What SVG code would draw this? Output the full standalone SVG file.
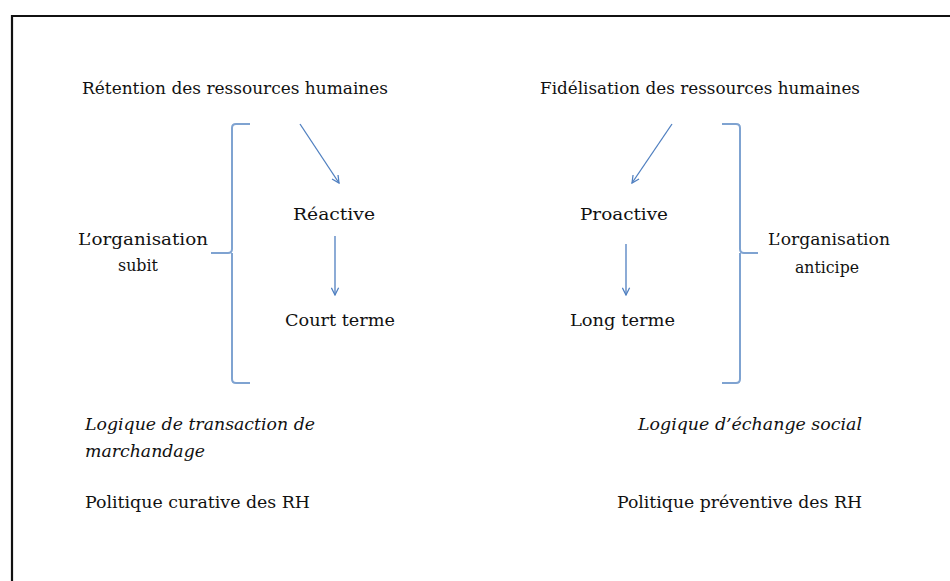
<svg xmlns="http://www.w3.org/2000/svg" width="950" height="581" viewBox="0 0 950 581">
<style>
.t{font-family:"DejaVu Serif","Liberation Serif",serif;font-size:16.5px;fill:#111}
.i{font-style:italic}
.arr{stroke:#4f7fc0;stroke-width:1.3;fill:none;marker-end:url(#ah)}
.br{stroke:#7fa3d1;stroke-width:2;fill:none}
</style>
<defs>
<marker id="ah" viewBox="0 0 10 10" refX="9" refY="5" markerWidth="9" markerHeight="9" markerUnits="userSpaceOnUse" orient="auto">
<path d="M1,1 L9,5 L1,9" fill="none" stroke="#4f7fc0" stroke-width="1.4"/>
</marker>
</defs>
<rect x="0" y="0" width="950" height="581" fill="#fff"/>
<path d="M12,600 V16 H960" fill="none" stroke="#111" stroke-width="2.2"/>
<g id="connectors">
<line class="arr" x1="300" y1="124" x2="339" y2="183"/>
<line class="arr" x1="335" y1="236" x2="335" y2="295"/>
<line class="arr" x1="672" y1="124" x2="632" y2="183"/>
<line class="arr" x1="626" y1="244" x2="626" y2="295"/>
</g>
<g id="bracket-left"><path class="br" d="M250,124 H236 Q232,124 232,128 V249 Q232,253 228,253 H211 M232,253 V379 Q232,383 236,383 H250"/></g>
<g id="bracket-right"><path class="br" d="M722,124 H736 Q740,124 740,128 V249 Q740,253 744,253 H758 M740,253 V379 Q740,383 736,383 H722"/></g>
<g id="retention"><text class="t" x="82" y="94" textLength="306" lengthAdjust="spacingAndGlyphs">Rétention des ressources humaines</text></g>
<g id="fidelisation"><text class="t" x="540" y="94" textLength="320" lengthAdjust="spacingAndGlyphs">Fidélisation des ressources humaines</text></g>
<g id="reactive"><text class="t" x="293" y="220" textLength="82" lengthAdjust="spacingAndGlyphs">Réactive</text></g>
<g id="court"><text class="t" x="285" y="326" textLength="110" lengthAdjust="spacingAndGlyphs">Court terme</text></g>
<g id="proactive"><text class="t" x="580" y="220" textLength="88" lengthAdjust="spacingAndGlyphs">Proactive</text></g>
<g id="long"><text class="t" x="570" y="326" textLength="105" lengthAdjust="spacingAndGlyphs">Long terme</text></g>
<g id="org-subit">
<text class="t" x="78" y="245" textLength="130" lengthAdjust="spacingAndGlyphs">L’organisation</text>
<text class="t" x="118" y="271" textLength="40" lengthAdjust="spacingAndGlyphs">subit</text>
</g>
<g id="org-anticipe">
<text class="t" x="768" y="245" textLength="122" lengthAdjust="spacingAndGlyphs">L’organisation</text>
<text class="t" x="795" y="273" textLength="64" lengthAdjust="spacingAndGlyphs">anticipe</text>
</g>
<g id="logique-transaction">
<text class="t i" x="85" y="430" textLength="230" lengthAdjust="spacingAndGlyphs">Logique de transaction de</text>
<text class="t i" x="85" y="457" textLength="120" lengthAdjust="spacingAndGlyphs">marchandage</text>
</g>
<g id="logique-echange"><text class="t i" x="638" y="430" textLength="224" lengthAdjust="spacingAndGlyphs">Logique d’échange social</text></g>
<g id="politique-curative"><text class="t" x="85" y="508" textLength="225" lengthAdjust="spacingAndGlyphs">Politique curative des RH</text></g>
<g id="politique-preventive"><text class="t" x="617" y="508" textLength="245" lengthAdjust="spacingAndGlyphs">Politique préventive des RH</text></g>
</svg>
